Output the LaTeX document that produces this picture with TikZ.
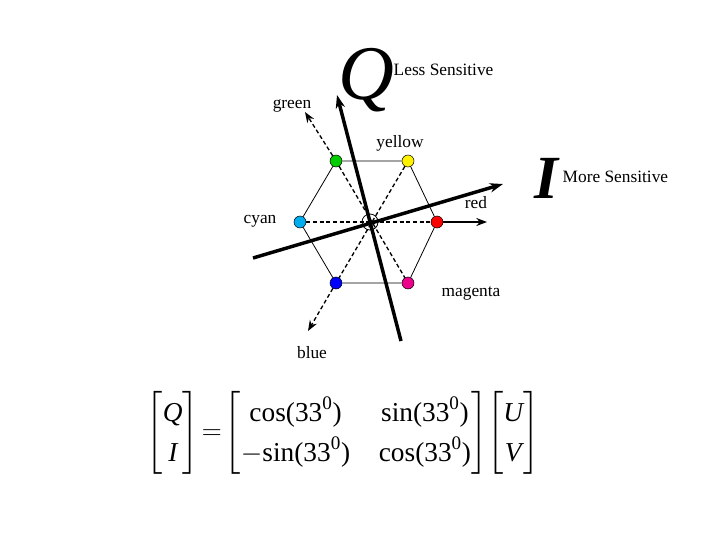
\documentclass[tikz,border=0pt]{standalone}
\usepackage{amsmath}
\usepackage{fontspec}
\setmainfont{Liberation Serif}
\usetikzlibrary{arrows.meta}
\newcommand{\tx}[1]{\textup{#1}}
\newcommand{\ti}[1]{\textit{#1}}
\begin{document}
\begin{tikzpicture}[x=0.75pt,y=-0.75pt,
  dot/.style={circle,draw=black,line width=0.4pt,minimum size=9pt,inner sep=0pt},
  lbl/.style={font=\fontsize{13}{15}\selectfont},
  thin/.style={line width=0.6pt},
  dsh/.style={line width=1pt,dash pattern=on 3pt off 2pt},
  axis/.style={line width=2.6pt,-{Stealth[length=10pt,width=7pt]}},
  >={Stealth[length=8pt,width=6pt]}]
\useasboundingbox (0,0) rectangle (720,540);
\coordinate (c) at (370,222);
\node[dot,fill=green!80!black] (g) at (336,161) {};
\node[dot,fill=yellow] (y) at (408,161) {};
\node[dot,fill=red] (r) at (437,222) {};
\node[dot,fill=magenta] (m) at (408,283) {};
\node[dot,fill=blue] (b) at (336,283) {};
\node[dot,fill=cyan] (cy) at (300,222) {};
\draw[thin] (g)--(y)--(r)--(m)--(b)--(cy)--(g);
\draw[dsh] (cy)--(r); \draw[dsh] (g)--(m); \draw[dsh] (y)--(b);
\coordinate (ga) at (305,112); \coordinate (ba) at (308,331); \coordinate (ra) at (487,222);
\draw[dsh,->] (g)--(ga);
\draw[dsh,->] (b)--(ba);
\draw[line width=1.5pt,->] (r)--(ra);
\draw[thin] (c) circle (8);
\coordinate (i0) at (253,258); \coordinate (i1) at (503,184);
\coordinate (q0) at (401,341); \coordinate (q1) at (337,95);
\draw[axis] (i0)--(i1);
\draw[axis] (q0)--(q1);
\node[font=\fontsize{58}{58}\selectfont\itshape] (Q) at (366,80) {Q};
\node[lbl,anchor=west] (ls) at (389,70) {Less Sensitive};
\node[font=\fontsize{46}{46}\selectfont\itshape\bfseries] (I) at (546,178) {I};
\node[lbl,anchor=west] (ms) at (558,177) {More Sensitive};
\node[lbl] (lg) at (292,106) {green};
\node[lbl] (ly) at (400,143) {yellow};
\node[lbl] (lr) at (476,203) {red};
\node[lbl] (lc) at (260,221) {cyan};
\node[lbl] (lm) at (471,293) {magenta};
\node[lbl] (lb) at (312,353) {blue};
\node[font=\fontsize{20.5}{25}\selectfont] (eq) at (343,433) {\renewcommand{\arraystretch}{1.2}$\begin{bmatrix}\ti{Q}\\ \ti{I}\end{bmatrix}\!=\!\begin{bmatrix}\tx{cos(33}^{\tx{0}}\tx{)} & \;\;\tx{sin(33}^{\tx{0}}\tx{)}\\ -\tx{sin(33}^{\tx{0}}\tx{)} & \;\;\tx{cos(33}^{\tx{0}}\tx{)}\end{bmatrix}\!\begin{bmatrix}\ti{U}\\ \ti{V}\end{bmatrix}$};
\end{tikzpicture}
\end{document}
